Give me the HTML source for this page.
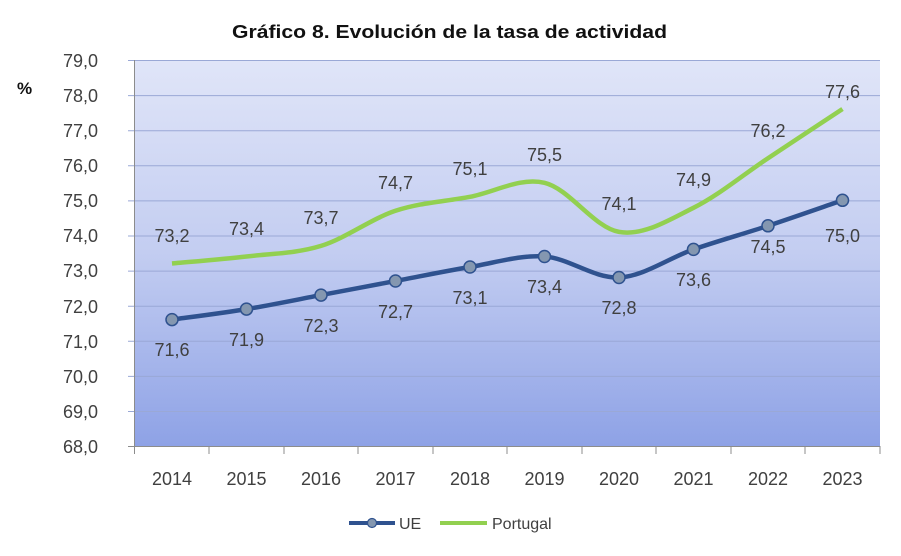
<!DOCTYPE html>
<html><head><meta charset="utf-8"><style>body{margin:0;background:#fff}svg{display:block}</style></head><body>
<svg width="901" height="556" xmlns="http://www.w3.org/2000/svg" font-family="Liberation Sans, sans-serif">
<defs><linearGradient id="g" x1="0" y1="0" x2="0" y2="1"><stop offset="0" stop-color="#e0e5f8"/><stop offset="0.5" stop-color="#c3cdf1"/><stop offset="1" stop-color="#8ea2e6"/></linearGradient></defs>
<text x="232" y="38" textLength="435" lengthAdjust="spacingAndGlyphs" font-weight="bold" font-size="18.5" fill="#111">Gráfico 8. Evolución de la tasa de actividad</text>
<text x="17" y="94" font-weight="bold" font-size="17" fill="#111">%</text>
<rect x="134" y="60" width="746" height="386" fill="url(#g)"/>
<g stroke="#9aa8d6" stroke-width="1">
<line x1="128" y1="60.5" x2="880" y2="60.5"/><line x1="128" y1="95.6" x2="880" y2="95.6"/><line x1="128" y1="130.7" x2="880" y2="130.7"/><line x1="128" y1="165.8" x2="880" y2="165.8"/><line x1="128" y1="200.9" x2="880" y2="200.9"/><line x1="128" y1="236" x2="880" y2="236"/><line x1="128" y1="271.1" x2="880" y2="271.1"/><line x1="128" y1="306.2" x2="880" y2="306.2"/><line x1="128" y1="341.3" x2="880" y2="341.3"/><line x1="128" y1="376.4" x2="880" y2="376.4"/><line x1="128" y1="411.5" x2="880" y2="411.5"/>
</g>
<g stroke="#8c8c8c" stroke-width="1">
<line x1="134.5" y1="60" x2="134.5" y2="446"/><line x1="128" y1="446.5" x2="880" y2="446.5"/>
<line x1="209" y1="446" x2="209" y2="454"/><line x1="284" y1="446" x2="284" y2="454"/><line x1="358" y1="446" x2="358" y2="454"/><line x1="433" y1="446" x2="433" y2="454"/><line x1="507" y1="446" x2="507" y2="454"/><line x1="582" y1="446" x2="582" y2="454"/><line x1="656" y1="446" x2="656" y2="454"/><line x1="731" y1="446" x2="731" y2="454"/><line x1="805" y1="446" x2="805" y2="454"/><line x1="880" y1="446" x2="880" y2="454"/><line x1="134.5" y1="446" x2="134.5" y2="454"/>
</g>
<g font-size="18" fill="#404040" text-anchor="end">
<text x="98" y="67">79,0</text><text x="98" y="102">78,0</text><text x="98" y="137">77,0</text><text x="98" y="172">76,0</text><text x="98" y="207">75,0</text><text x="98" y="242">74,0</text><text x="98" y="277">73,0</text><text x="98" y="313">72,0</text><text x="98" y="348">71,0</text><text x="98" y="383">70,0</text><text x="98" y="418">69,0</text><text x="98" y="453">68,0</text>
</g>
<g font-size="18" fill="#404040" text-anchor="middle">
<text x="172" y="485">2014</text><text x="246.5" y="485">2015</text><text x="321" y="485">2016</text><text x="395.5" y="485">2017</text><text x="470" y="485">2018</text><text x="544.5" y="485">2019</text><text x="619" y="485">2020</text><text x="693.5" y="485">2021</text><text x="768" y="485">2022</text><text x="842.5" y="485">2023</text>
</g>
<path fill="none" stroke="#92d050" stroke-width="4.5" d="M172,263.5 C184.4,262.3 221.7,259.4 246.5,256.5 C271.3,253.6 296.2,253.5 321,245.9 C345.8,238.3 370.7,219 395.5,210.8 C420.3,202.6 445.2,201.5 470,196.8 C494.8,192.1 519.7,177 544.5,182.8 C569.3,188.6 594.2,227.7 619,231.9 C643.8,236.1 668.7,220.1 693.5,207.8 C718.3,195.5 743.2,174.7 768,158.2 C792.8,141.7 830.1,117.2 842.5,109"/>
<path fill="none" stroke="#2f528f" stroke-width="4.5" d="M172,319.6 C184.4,317.85 221.7,313.2 246.5,309.1 C271.3,305 296.2,299.8 321,295.1 C345.8,290.4 370.7,285.7 395.5,281 C420.3,276.3 445.2,271.1 470,267 C494.8,262.9 519.7,254.75 544.5,256.5 C569.3,258.25 594.2,278.7 619,277.5 C643.8,276.3 668.7,258 693.5,249.4 C718.3,240.8 743.2,234 768,225.8 C792.8,217.6 830.1,204.5 842.5,200.3"/>
<g fill="#8497b0" stroke="#2f528f" stroke-width="1.5">
<circle cx="172" cy="319.6" r="6"/><circle cx="246.5" cy="309.1" r="6"/><circle cx="321" cy="295.1" r="6"/><circle cx="395.5" cy="281" r="6"/><circle cx="470" cy="267" r="6"/><circle cx="544.5" cy="256.5" r="6"/><circle cx="619" cy="277.5" r="6"/><circle cx="693.5" cy="249.4" r="6"/><circle cx="768" cy="225.8" r="6"/><circle cx="842.5" cy="200.3" r="6"/>
</g>
<g font-size="18" fill="#404040" text-anchor="middle">
<text x="172" y="356">71,6</text><text x="246.5" y="346">71,9</text><text x="321" y="332">72,3</text><text x="395.5" y="318">72,7</text><text x="470" y="304">73,1</text><text x="544.5" y="293">73,4</text><text x="619" y="314">72,8</text><text x="693.5" y="286">73,6</text><text x="768" y="253">74,5</text><text x="842.5" y="242">75,0</text>
<text x="172" y="242">73,2</text><text x="246.5" y="235">73,4</text><text x="321" y="224">73,7</text><text x="395.5" y="189">74,7</text><text x="470" y="175">75,1</text><text x="544.5" y="161">75,5</text><text x="619" y="210">74,1</text><text x="693.5" y="186">74,9</text><text x="768" y="137">76,2</text><text x="842.5" y="98">77,6</text>
</g>
<line x1="349" y1="523" x2="395" y2="523" stroke="#2f528f" stroke-width="4"/>
<circle cx="372" cy="523" r="4.5" fill="#8497b0" stroke="#2f528f" stroke-width="1.2"/>
<text x="399" y="529" font-size="16" fill="#404040">UE</text>
<line x1="440" y1="523" x2="487" y2="523" stroke="#92d050" stroke-width="4"/>
<text x="492" y="529" font-size="16" fill="#404040">Portugal</text>
</svg>
</body></html>
